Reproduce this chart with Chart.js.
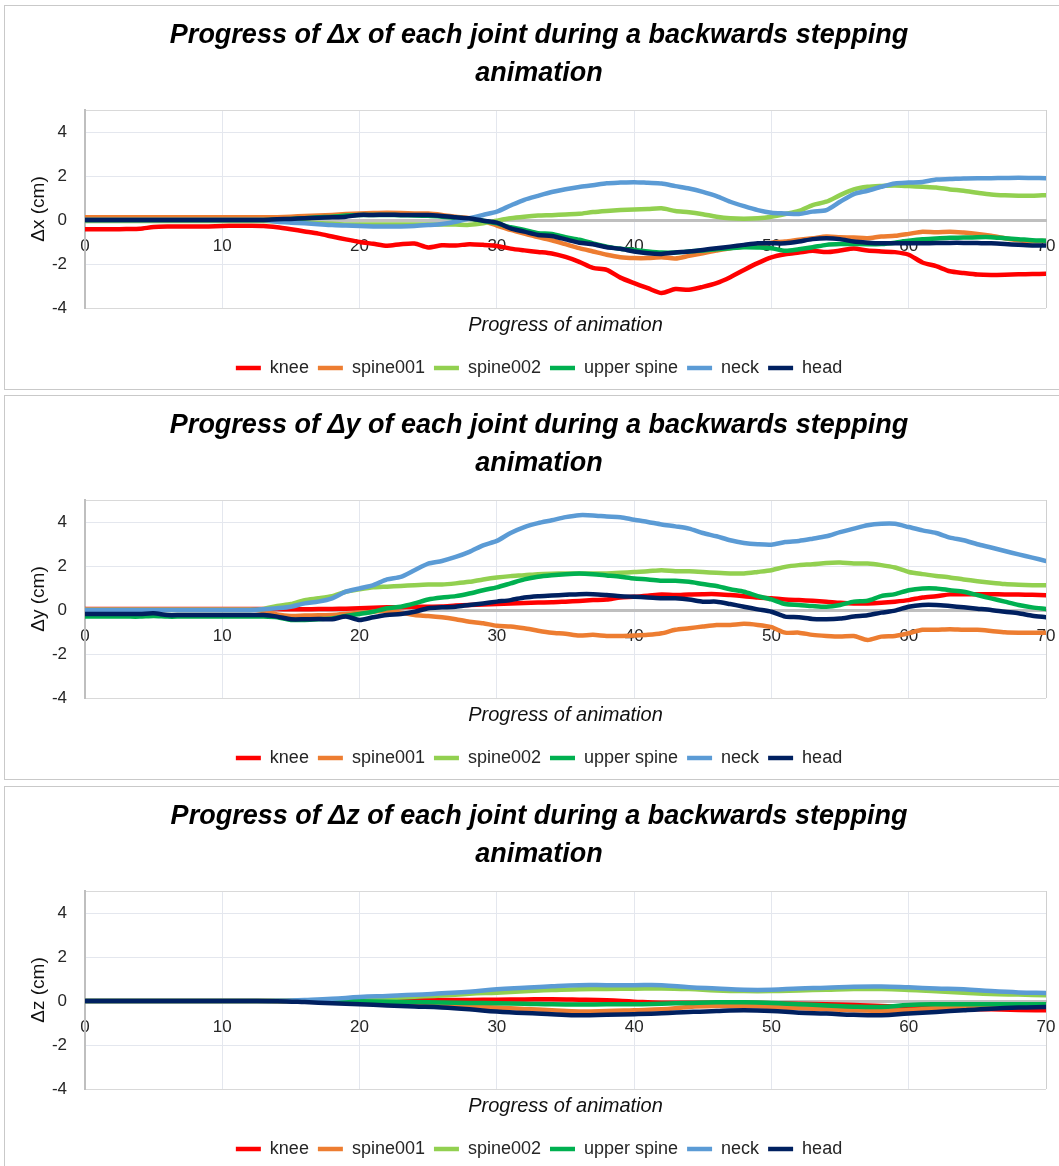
<!DOCTYPE html>
<html>
<head>
<meta charset="utf-8">
<script src="https://cdn.jsdelivr.net/npm/chart.js@4.4.1/dist/chart.umd.min.js"></script>
<style>
  body { margin: 0; background: #fff; width: 1059px; height: 1166px; overflow: hidden; position: relative; }
  .panel { position: absolute; left: 4px; width: 1060px; height: 385px; border: 1px solid #c9c9c9; box-sizing: border-box; background: #fff; }
  canvas { display: block; }
</style>
</head>
<body>
<div class="panel" style="top:5px"><canvas id="chartX" width="1058" height="383"></canvas></div>
<div class="panel" style="top:395px"><canvas id="chartY" width="1058" height="383"></canvas></div>
<div class="panel" style="top:786px"><canvas id="chartZ" width="1058" height="383"></canvas></div>
<script>
// joints and their colours (legend order)
const seriesNames = ['knee', 'spine001', 'spine002', 'upper spine', 'neck', 'head'];
const seriesColors = ['#FF0000', '#ED7D31', '#92D050', '#00B050', '#5B9BD5', '#002060'];

// axis ticks
const yTickValues = [-4, -2, 0, 2, 4];
const yMin = -4;
const yMax = 5;
const xTickStep = 10;

// progress of animation (frames)
const frames = [0,1,2,3,4,5,6,7,8,9,10,11,12,13,14,15,16,17,18,19,20,21,22,23,24,25,26,27,28,29,30,31,32,33,34,35,36,37,38,39,40,41,42,43,44,45,46,47,48,49,50,51,52,53,54,55,56,57,58,59,60,61,62,63,64,65,66,67,68,69,70];
const framesZ = [0,2,4,6,8,10,12,14,16,18,20,22,24,26,28,30,32,34,36,38,40,42,44,46,48,50,52,54,56,58,60,62,64,66,68,70];

// ---- dx (cm) ----
const kneeX = [-0.42,-0.42,-0.42,-0.41,-0.4,-0.32,-0.3,-0.3,-0.3,-0.29,-0.27,-0.26,-0.26,-0.27,-0.33,-0.42,-0.52,-0.62,-0.75,-0.88,-1.0,-1.08,-1.17,-1.1,-1.07,-1.25,-1.15,-1.16,-1.1,-1.13,-1.18,-1.3,-1.38,-1.45,-1.52,-1.68,-1.9,-2.18,-2.27,-2.62,-2.87,-3.1,-3.32,-3.14,-3.17,-3.04,-2.87,-2.6,-2.27,-1.96,-1.7,-1.56,-1.48,-1.4,-1.46,-1.39,-1.3,-1.39,-1.43,-1.46,-1.58,-1.93,-2.1,-2.33,-2.41,-2.48,-2.5,-2.49,-2.47,-2.46,-2.44];
const spine001X = [0.12,0.12,0.12,0.12,0.12,0.12,0.12,0.12,0.12,0.12,0.12,0.12,0.12,0.12,0.13,0.15,0.18,0.2,0.23,0.27,0.3,0.32,0.33,0.32,0.3,0.29,0.23,0.15,0.08,-0.05,-0.25,-0.45,-0.62,-0.78,-0.92,-1.1,-1.28,-1.43,-1.58,-1.69,-1.73,-1.73,-1.69,-1.75,-1.63,-1.51,-1.39,-1.28,-1.21,-1.13,-1.03,-0.98,-0.9,-0.83,-0.75,-0.78,-0.8,-0.83,-0.75,-0.72,-0.63,-0.53,-0.56,-0.53,-0.57,-0.63,-0.72,-0.83,-0.92,-0.97,-0.95];
const spine002X = [-0.05,-0.05,-0.05,-0.05,-0.05,-0.05,-0.05,-0.05,-0.05,-0.05,-0.05,-0.05,-0.05,-0.05,-0.06,-0.08,-0.1,-0.14,-0.17,-0.2,-0.2,-0.2,-0.2,-0.2,-0.2,-0.2,-0.2,-0.21,-0.22,-0.15,-0.03,0.08,0.15,0.2,0.22,0.25,0.28,0.36,0.41,0.45,0.48,0.5,0.53,0.41,0.35,0.26,0.15,0.08,0.06,0.08,0.15,0.27,0.41,0.68,0.83,1.13,1.39,1.51,1.55,1.57,1.54,1.51,1.48,1.39,1.33,1.24,1.16,1.12,1.1,1.1,1.13];
const upperSpineX = [0,0,0,0,0,0,0,0,0,0,0,0,0,0,0.02,0.05,0.08,0.12,0.15,0.2,0.23,0.23,0.23,0.22,0.21,0.19,0.15,0.1,0.06,-0.03,-0.15,-0.33,-0.45,-0.6,-0.63,-0.78,-0.9,-1.06,-1.21,-1.31,-1.36,-1.43,-1.48,-1.48,-1.43,-1.39,-1.33,-1.28,-1.24,-1.25,-1.28,-1.4,-1.33,-1.24,-1.13,-1.09,-1.09,-1.1,-1.09,-1.03,-0.94,-0.87,-0.84,-0.81,-0.8,-0.78,-0.78,-0.83,-0.87,-0.92,-0.94];
const neckX = [0,0,0,0,0,0,0,0,0,0,0,0,0,0,-0.08,-0.12,-0.15,-0.19,-0.23,-0.25,-0.27,-0.29,-0.3,-0.29,-0.27,-0.23,-0.18,-0.08,0.08,0.23,0.38,0.66,0.92,1.1,1.27,1.4,1.5,1.58,1.67,1.7,1.72,1.69,1.66,1.54,1.43,1.28,1.09,0.83,0.63,0.45,0.33,0.3,0.27,0.38,0.45,0.83,1.18,1.33,1.51,1.66,1.7,1.73,1.84,1.86,1.89,1.9,1.9,1.91,1.92,1.91,1.9];
const headX = [0,0,0,0,0,0,0,0,0,0,0,0,0,0,0.03,0.05,0.08,0.1,0.12,0.15,0.23,0.23,0.24,0.23,0.23,0.23,0.18,0.12,0.08,-0.03,-0.12,-0.38,-0.53,-0.68,-0.73,-0.88,-1.03,-1.1,-1.24,-1.31,-1.43,-1.51,-1.54,-1.48,-1.43,-1.36,-1.28,-1.21,-1.13,-1.06,-1.06,-1.06,-0.98,-0.87,-0.83,-0.87,-0.98,-1.03,-1.06,-1.06,-1.06,-1.06,-1.05,-1.04,-1.04,-1.05,-1.06,-1.09,-1.13,-1.16,-1.16];

// ---- dy (cm) ----
const kneeY = [0.05,0.05,0.05,0.05,0.05,0.05,0.05,0.05,0.05,0.05,0.05,0.05,0.05,0.05,0.04,0.03,0.03,0.04,0.05,0.06,0.08,0.1,0.12,0.13,0.15,0.15,0.16,0.2,0.23,0.25,0.27,0.3,0.32,0.34,0.35,0.38,0.41,0.45,0.48,0.57,0.6,0.65,0.71,0.68,0.71,0.72,0.72,0.68,0.63,0.57,0.53,0.48,0.45,0.42,0.38,0.33,0.3,0.3,0.33,0.38,0.45,0.57,0.63,0.71,0.72,0.72,0.72,0.71,0.7,0.69,0.67];
const spine001Y = [0.03,0.03,0.03,0.03,0.03,0.03,0.03,0.03,0.03,0.03,0.03,0.03,0.03,-0.05,-0.2,-0.27,-0.25,-0.24,-0.23,-0.18,-0.12,-0.08,-0.03,-0.12,-0.23,-0.27,-0.33,-0.42,-0.53,-0.6,-0.72,-0.75,-0.83,-0.94,-1.03,-1.08,-1.16,-1.13,-1.18,-1.18,-1.16,-1.13,-1.06,-0.9,-0.83,-0.75,-0.68,-0.68,-0.63,-0.68,-0.78,-1.03,-1.03,-1.13,-1.18,-1.21,-1.18,-1.36,-1.21,-1.18,-1.06,-0.9,-0.9,-0.87,-0.9,-0.9,-0.95,-1.01,-1.03,-1.03,-1.03];
const spine002Y = [0,0,0,0,0,0,0,0,0,0,0,0,0,0.05,0.18,0.27,0.45,0.53,0.63,0.83,0.94,1.03,1.06,1.09,1.13,1.16,1.16,1.21,1.28,1.39,1.48,1.54,1.58,1.63,1.65,1.66,1.66,1.66,1.66,1.69,1.73,1.76,1.81,1.76,1.76,1.73,1.69,1.66,1.66,1.73,1.81,1.96,2.04,2.08,2.14,2.16,2.11,2.11,2.04,1.93,1.73,1.63,1.55,1.48,1.39,1.31,1.24,1.18,1.15,1.13,1.12];
const upperSpineY = [-0.3,-0.3,-0.3,-0.3,-0.3,-0.27,-0.3,-0.3,-0.3,-0.3,-0.3,-0.3,-0.3,-0.3,-0.33,-0.45,-0.45,-0.42,-0.38,-0.27,-0.18,-0.08,0.08,0.15,0.3,0.48,0.57,0.63,0.75,0.9,1.03,1.21,1.39,1.51,1.58,1.63,1.66,1.63,1.57,1.51,1.43,1.39,1.33,1.33,1.28,1.18,1.09,0.94,0.83,0.63,0.48,0.27,0.23,0.18,0.15,0.23,0.38,0.42,0.63,0.72,0.9,0.98,0.98,0.9,0.83,0.68,0.53,0.38,0.23,0.12,0.05];
const neckY = [0,0,0,0,0,0,0,0,0,0,0,0,0,0.03,0.08,0.15,0.3,0.38,0.53,0.83,0.98,1.13,1.39,1.51,1.81,2.11,2.23,2.41,2.64,2.94,3.14,3.5,3.77,3.95,4.08,4.22,4.31,4.3,4.25,4.22,4.1,4.0,3.89,3.8,3.7,3.5,3.35,3.17,3.05,2.99,2.97,3.09,3.14,3.24,3.35,3.54,3.7,3.85,3.92,3.92,3.77,3.62,3.5,3.29,3.17,2.99,2.84,2.68,2.53,2.38,2.23];
const headY = [-0.18,-0.18,-0.18,-0.18,-0.18,-0.15,-0.23,-0.23,-0.23,-0.23,-0.23,-0.23,-0.23,-0.23,-0.3,-0.42,-0.42,-0.41,-0.42,-0.3,-0.45,-0.33,-0.23,-0.18,-0.08,0.08,0.12,0.15,0.23,0.3,0.38,0.45,0.57,0.63,0.66,0.69,0.72,0.72,0.68,0.63,0.6,0.57,0.53,0.53,0.48,0.38,0.38,0.27,0.15,0.03,-0.08,-0.3,-0.33,-0.41,-0.42,-0.39,-0.3,-0.24,-0.12,-0.03,0.15,0.23,0.23,0.18,0.12,0.06,0,-0.08,-0.15,-0.26,-0.33];

// ---- dz (cm), every second frame ----
const kneeZ = [0,0,0,0,0,0,0,0,0,0,0.01,0.02,0.03,0.04,0.05,0.06,0.07,0.08,0.06,0.03,-0.03,-0.08,-0.08,-0.08,-0.08,-0.1,-0.12,-0.15,-0.18,-0.23,-0.26,-0.3,-0.35,-0.38,-0.41,-0.42];
const spine001Z = [0,0,0,0,0,0,0,0,0,0,-0.03,-0.08,-0.12,-0.18,-0.24,-0.3,-0.36,-0.42,-0.48,-0.46,-0.42,-0.38,-0.27,-0.23,-0.23,-0.27,-0.33,-0.38,-0.42,-0.45,-0.41,-0.33,-0.3,-0.26,-0.24,-0.23];
const spine002Z = [0,0,0,0,0,0,0,0,0,0.04,0.08,0.13,0.19,0.25,0.33,0.38,0.44,0.5,0.53,0.55,0.56,0.57,0.54,0.48,0.45,0.45,0.48,0.51,0.54,0.54,0.5,0.44,0.38,0.32,0.29,0.26];
const upperSpineZ = [0,0,0,0,0,0,0,0,0,0,-0.01,-0.03,-0.05,-0.07,-0.09,-0.1,-0.12,-0.15,-0.16,-0.15,-0.15,-0.12,-0.09,-0.06,-0.06,-0.09,-0.15,-0.2,-0.26,-0.27,-0.18,-0.15,-0.15,-0.15,-0.15,-0.15];
const neckZ = [0,0,0,0,0,0,0,0.01,0.05,0.1,0.18,0.23,0.28,0.35,0.42,0.53,0.6,0.67,0.72,0.72,0.72,0.72,0.63,0.57,0.51,0.51,0.57,0.6,0.65,0.66,0.62,0.57,0.53,0.45,0.39,0.36];
const headZ = [0,0,0,0,0,0,0,-0.01,-0.05,-0.1,-0.15,-0.2,-0.25,-0.3,-0.38,-0.48,-0.55,-0.6,-0.65,-0.63,-0.6,-0.56,-0.5,-0.45,-0.42,-0.45,-0.53,-0.57,-0.63,-0.65,-0.57,-0.5,-0.42,-0.35,-0.3,-0.27];

const fontName = "'Liberation Sans', Arial, sans-serif";
const textColor = '#262626';

function gridColor(c) {
  const v = c.tick ? c.tick.value : null;
  if (v === yMax || v === yMin) return '#d9d9d9';
  return '#e4e7ee';
}

function makeChart(id, heading, yTitle, xs, series, tension) {
  const datasets = seriesNames.map((name, i) => ({
    label: name,
    data: series[i].map((v, k) => ({ x: xs[k], y: v })),
    borderColor: seriesColors[i],
    backgroundColor: seriesColors[i],
    borderWidth: 4.5,
    pointRadius: 0,
    tension: tension,
    borderCapStyle: 'round',
    borderJoinStyle: 'round',
    xAxisID: 'x',
    yAxisID: 'y',
    // later joints are drawn on top, like the original
    order: seriesNames.length - 1 - i
  }));

  return new Chart(document.getElementById(id), {
    type: 'line',
    data: { datasets: datasets },
    options: {
      responsive: false,
      animation: false,
      events: [],
      layout: { padding: { top: 0, left: 27, right: 17, bottom: 2 } },
      plugins: {
        title: {
          display: true,
          text: [heading, 'animation'],
          color: '#000',
          font: { family: fontName, size: 27, weight: 'bold', style: 'italic', lineHeight: '38px' },
          padding: { top: 11, bottom: 17 }
        },
        legend: {
          position: 'bottom',
          labels: {
            usePointStyle: true,
            pointStyle: 'line',
            pointStyleWidth: 25,
            padding: 9,
            color: textColor,
            font: { family: fontName, size: 18 },
            sort: (a, b) => a.datasetIndex - b.datasetIndex
          }
        },
        tooltip: { enabled: false }
      },
      scales: {
        x: {
          type: 'linear',
          position: { y: 0 },
          min: 0,
          max: 70,
          // the end labels may hang over the plot edges
          afterFit: (s) => { s.paddingLeft = 0; s.paddingRight = 0; },
          ticks: { stepSize: xTickStep, padding: 16, maxRotation: 0, color: textColor, font: { family: fontName, size: 17 } },
          grid: { color: (c) => (c.tick && c.tick.value === 70 ? '#d0d0d0' : '#e4e7ee'), drawTicks: false },
          border: { color: '#bfbfbf', width: 3 }
        },
        x2: {
          type: 'linear',
          position: 'bottom',
          min: 0,
          max: 70,
          ticks: { display: false },
          grid: { display: false, drawTicks: false },
          border: { display: false },
          title: {
            display: true,
            text: 'Progress of animation',
            color: '#111',
            font: { family: fontName, size: 20, style: 'italic' },
            padding: { top: 5, bottom: 13 }
          }
        },
        y: {
          min: yMin,
          max: yMax,
          afterBuildTicks: (s) => { s.ticks = yTickValues.concat([yMax]).map(v => ({ value: v })); },
          afterFit: (s) => { s.width = 53; },
          ticks: {
            padding: 18,
            color: textColor,
            font: { family: fontName, size: 17 },
            callback: (v) => (v === yMax ? '' : v)
          },
          grid: { color: gridColor, drawTicks: false },
          border: { color: '#bfbfbf', width: 2 },
          title: {
            display: true,
            text: yTitle,
            color: '#111',
            font: { family: fontName, size: 19 },
            padding: { top: -5, bottom: 0 }
          }
        }
      }
    }
  });
}

makeChart('chartX', 'Progress of Δx of each joint during a backwards stepping', 'Δx (cm)', frames,
  [kneeX, spine001X, spine002X, upperSpineX, neckX, headX], 0.25);
makeChart('chartY', 'Progress of Δy of each joint during a backwards stepping', 'Δy (cm)', frames,
  [kneeY, spine001Y, spine002Y, upperSpineY, neckY, headY], 0.25);
makeChart('chartZ', 'Progress of Δz of each joint during a backwards stepping', 'Δz (cm)', framesZ,
  [kneeZ, spine001Z, spine002Z, upperSpineZ, neckZ, headZ], 0.4);
</script>
</body>
</html>
